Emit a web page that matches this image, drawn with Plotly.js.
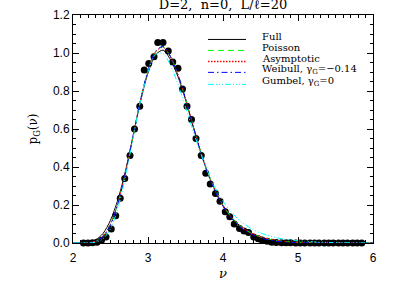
<!DOCTYPE html>
<html>
<head>
<meta charset="utf-8">
<script src="https://cdn.plot.ly/plotly-3.0.1.min.js"></script>
<style>html,body{margin:0;padding:0;background:#fff;}#chart{width:415px;height:297px;}</style>
</head>
<body>
<div id="chart"></div>
<script>
// Simulation points (black circles)
const ptsX = [2.14,2.20,2.26,2.32,2.38,2.44,2.51,2.57,2.63,2.69,2.76,2.82,2.89,2.95,3.01,3.08,3.13,3.20,3.27,3.33,3.40,3.46,3.52,3.58,3.64,3.71,3.77,3.83,3.90,3.96,4.03,4.09,4.15,4.22,4.28,4.34,4.41,4.47,4.52,4.59,4.65,4.71,4.78,4.84,4.90,4.97,5.03,5.09,5.16,5.22,5.28,5.35,5.41,5.47,5.54,5.60,5.66,5.73,5.79,5.85];
const ptsY = [0.000,0.000,0.001,0.004,0.014,0.032,0.074,0.143,0.236,0.340,0.460,0.600,0.720,0.910,0.945,0.980,1.055,1.055,1.010,0.952,0.920,0.810,0.720,0.650,0.550,0.460,0.367,0.310,0.260,0.220,0.164,0.138,0.100,0.076,0.063,0.055,0.032,0.023,0.016,0.009,0.004,0.002,0.001,0.001,0.001,0.000,0.000,0.000,0.000,0.000,0.000,0.000,0.000,0.000,0.000,0.000,0.000,0.000,0.000,0.000];

// Model curves
const curveX   = [2.0,2.1,2.2,2.3,2.4,2.5,2.6,2.7,2.8,2.9,3.0,3.1,3.2,3.3,3.4,3.5,3.6,3.7,3.8,3.9,4.0,4.1,4.2,4.3,4.4,4.5,4.6,4.7,4.8,4.9,5.0,5.2,5.4,5.6,5.8,6.0];
const fullY    = [0.000,0.000,0.003,0.016,0.050,0.120,0.230,0.380,0.560,0.745,0.895,0.990,1.015,0.965,0.875,0.755,0.615,0.480,0.365,0.272,0.198,0.142,0.100,0.069,0.047,0.031,0.020,0.013,0.008,0.005,0.003,0.001,0.000,0.000,0.000,0.000];
const poissonY = [0.000,0.000,0.001,0.009,0.034,0.098,0.210,0.370,0.560,0.750,0.905,1.005,1.032,0.980,0.885,0.760,0.620,0.485,0.368,0.273,0.198,0.141,0.099,0.069,0.047,0.032,0.021,0.014,0.009,0.006,0.004,0.0015,0.0005,0.0002,0.000,0.000];
const asymY    = [0.000,0.000,0.001,0.010,0.036,0.100,0.212,0.372,0.562,0.752,0.906,1.006,1.030,0.978,0.884,0.760,0.621,0.486,0.369,0.274,0.199,0.142,0.100,0.070,0.048,0.033,0.022,0.015,0.010,0.006,0.004,0.0015,0.0005,0.0002,0.000,0.000];
const weibullY = [0.000,0.000,0.001,0.009,0.033,0.096,0.208,0.368,0.560,0.752,0.908,1.008,1.035,0.982,0.886,0.760,0.618,0.481,0.363,0.268,0.193,0.136,0.094,0.064,0.042,0.027,0.017,0.010,0.006,0.003,0.002,0.0005,0.000,0.000,0.000,0.000];
const gumbelY  = [0.000,0.000,0.000,0.004,0.022,0.075,0.185,0.350,0.550,0.748,0.902,0.992,0.998,0.935,0.835,0.715,0.592,0.475,0.372,0.288,0.220,0.167,0.126,0.095,0.071,0.053,0.039,0.029,0.021,0.016,0.012,0.006,0.003,0.0015,0.0007,0.0003];

const seriesNames = ["Full","Poisson","Asymptotic","Weibull, γ<sub>G</sub>=−0.14","Gumbel, γ<sub>G</sub>=0"];
const xTicks = [2,3,4,5,6];
const yTicks = [0.0,0.2,0.4,0.6,0.8,1.0,1.2];

const seriesY = [fullY, poissonY, asymY, weibullY, gumbelY];
const colors = ["#000000","#00ff00","#ff0000","#0000ff","#00ffff"];
const dashes = ["solid","6px,4px","1.5px,1.5px","6px,3px,1.5px,3px","6px,2px,1px,2px,1px,2px,1px,2px"];
const legendWidths = [1, 1, 1.5, 1, 1];

const traces = [{
  x: ptsX, y: ptsY, type: "scatter", mode: "markers",
  marker: {color: "#000", size: 7, symbol: "circle"},
  cliponaxis: false, showlegend: false, hoverinfo: "skip"
}];
seriesY.forEach((ys, i) => {
  traces.push({
    x: curveX, y: ys, type: "scatter", mode: "lines", name: seriesNames[i],
    line: {color: colors[i], width: 1, dash: dashes[i], shape: "spline", smoothing: 0.8},
    showlegend: false, hoverinfo: "skip"
  });
});

// Legend drawn as shapes + annotations (IDL-style, no box)
const L = 73, R = 373, T = 15, B = 243.5;
const px2x = p => (p - L) / (R - L);
const px2y = p => (B - p) / (B - T);
const rowY = [39.5, 50.5, 61.5, 72.5, 84.5];
const shapes = [], annotations = [];
seriesNames.forEach((n, i) => {
  shapes.push({type: "line", xref: "paper", yref: "paper",
    x0: px2x(208), x1: px2x(246), y0: px2y(rowY[i]), y1: px2y(rowY[i]),
    line: {color: colors[i], width: legendWidths[i], dash: dashes[i]}});
  annotations.push({xref: "paper", yref: "paper", x: px2x(260), y: px2y(rowY[i] - 3),
    xanchor: "left", yanchor: "middle", showarrow: false, text: n,
    font: {family: "DejaVu Serif", size: 10, color: "#000"}});
});

const axisCommon = {
  showline: true, linecolor: "#000", linewidth: 1, mirror: "ticks",
  ticks: "inside", tickcolor: "#000", tickwidth: 1, showgrid: false, zeroline: false,
  tickfont: {family: "Liberation Sans, Arial, sans-serif", size: 12, color: "#000"}
};

const layout = {
  width: 415, height: 297,
  margin: {l: L, r: 415 - R, t: T, b: 297 - B},
  paper_bgcolor: "#fff", plot_bgcolor: "#fff",
  showlegend: false,
  title: {text: "D=2,  n=0,  L/ℓ=20", x: (L + R) / 2 / 415, xanchor: "center",
    y: 1, yref: "container", yanchor: "top", pad: {t: 0, b: 0},
    font: {family: "DejaVu Serif", size: 13, color: "#000"}},
  xaxis: Object.assign({}, axisCommon, {
    range: [2, 6], tickvals: xTicks, ticktext: xTicks.map(String), ticklen: 6,
    minor: {dtick: 0.1, ticks: "inside", ticklen: 3, tickcolor: "#000"},
    ticklabelstandoff: 4,
    title: {text: "<i>ν</i>", standoff: 4, font: {family: "DejaVu Serif", size: 13, color: "#000"}}
  }),
  yaxis: Object.assign({}, axisCommon, {
    range: [0, 1.2], tickvals: yTicks, ticktext: yTicks.map(v => v.toFixed(1)), ticklen: 6,
    minor: {dtick: 0.05, ticks: "inside", ticklen: 3, tickcolor: "#000"},
    title: {text: "p<sub>G</sub>(ν)", standoff: 12, font: {family: "DejaVu Serif", size: 12, color: "#000"}}
  }),
  shapes: shapes, annotations: annotations
};

Plotly.newPlot("chart", traces, layout, {staticPlot: true, displayModeBar: false});
</script>
</body>
</html>
